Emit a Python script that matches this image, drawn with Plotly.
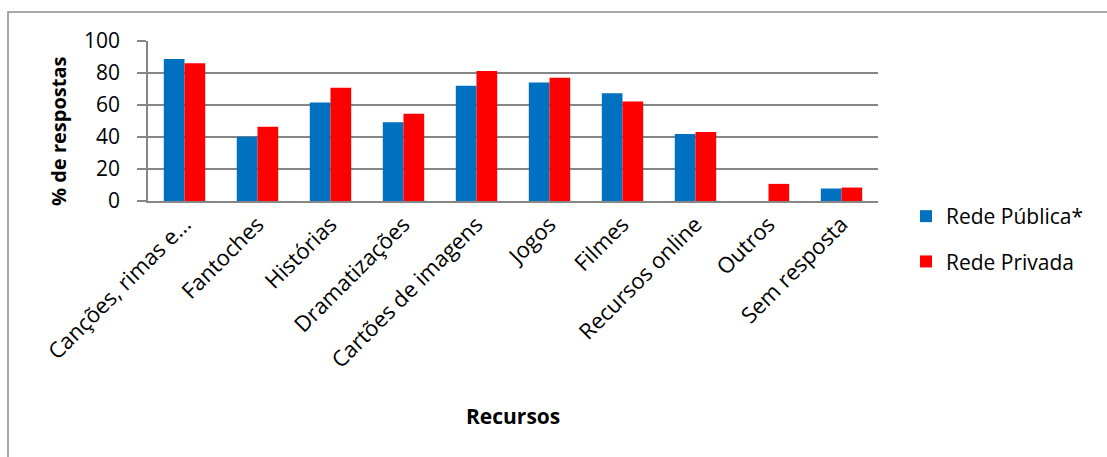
import plotly.graph_objects as go

categorias = ["Canções, rimas e...", "Fantoches", "Histórias", "Dramatizações",
              "Cartões de imagens", "Jogos", "Filmes", "Recursos online",
              "Outros", "Sem resposta"]
rede_publica = [88.7, 40.1, 61.6, 49.2, 72.1, 74.0, 67.4, 41.8, 0, 7.8]
rede_privada = [86.1, 46.4, 70.8, 54.6, 81.3, 77.1, 62.2, 43.1, 10.7, 8.4]
y_ticks = [0, 20, 40, 60, 80, 100]

W, H = 1107, 457
L, R, T, B = 148, 229, 41, 256
pw, ph = W - L - R, H - T - B

def px_x(p):
    return (p - L) / pw

def px_y(p):
    return (H - B - p) / ph

FONT = "Open Sans"
GRID = "#868686"

fig = go.Figure()
fig.add_trace(go.Bar(x=categorias, y=rede_publica, name="Rede Pública*",
                     marker=dict(color="#0070C0", line=dict(width=0)),
                     legendgroup="a"))
fig.add_trace(go.Bar(x=categorias, y=rede_privada, name="Rede Privada",
                     marker=dict(color="#FF0000", line=dict(width=0)),
                     legendgroup="b"))

fig.update_layout(
    width=W, height=H,
    margin=dict(l=L, r=R, t=T, b=B, autoexpand=False),
    paper_bgcolor="white", plot_bgcolor="white",
    barmode="group", bargap=0.433, bargroupgap=0,
    font=dict(family=FONT, color="black"),
    legend=dict(x=px_x(906), y=px_y(196), xanchor="left", yanchor="top",
                font=dict(size=21, family=FONT), traceorder="grouped",
                tracegroupgap=15, itemwidth=30, bgcolor="rgba(0,0,0,0)"),
    xaxis=dict(tickangle=-45, tickfont=dict(size=22, family=FONT),
               showline=True, linecolor=GRID, linewidth=1.6,
               ticks="", showgrid=False),
    yaxis=dict(range=[0, 100], tickvals=y_ticks, tickfont=dict(size=21, family=FONT),
               showline=True, linecolor=GRID, linewidth=1.6,
               ticks="outside", ticklen=9, tickcolor=GRID, tickwidth=1.6,
               ticklabelstandoff=13,
               showgrid=True, gridcolor=GRID, gridwidth=1.6),
    showlegend=True,
)

fig.add_annotation(x=px_x(58), y=px_y(132), xref="paper", yref="paper",
                   text="<b>% de respostas</b>", showarrow=False, textangle=-90,
                   font=dict(size=20, family=FONT), xanchor="center", yanchor="middle")

fig.add_annotation(x=0.5, y=px_y(416), xref="paper", yref="paper",
                   text="<b>Recursos</b>", showarrow=False,
                   font=dict(size=21, family=FONT), xanchor="center", yanchor="middle")

fig.add_shape(type="rect", xref="paper", yref="paper",
              x0=px_x(8), x1=px_x(1115), y0=px_y(470), y1=px_y(12),
              line=dict(color="#8c8c8c", width=1.5), fillcolor="rgba(0,0,0,0)",
              layer="below")

fig.write_html("out.html")
